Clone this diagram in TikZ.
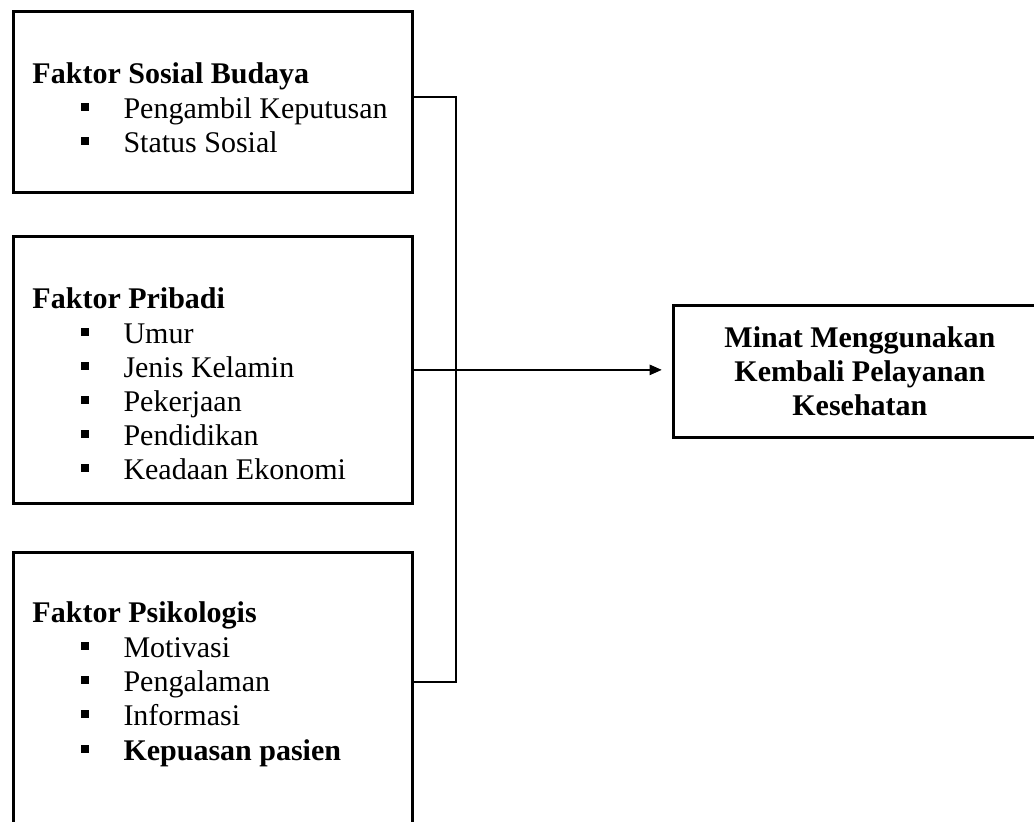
\documentclass[tikz,border=0pt]{standalone}
\usepackage{fontspec}
\setmainfont{Liberation Serif}
\usetikzlibrary{arrows.meta}
\newcommand{\bul}{\rule[3pt]{3pt}{3pt}\hspace{13.8pt}}

\begin{document}
\begin{tikzpicture}[x=0.4pt, y=-0.4pt,
    box/.style={draw, line width=1.1pt, anchor=north west, inner sep=0pt, minimum width=159.6pt},
    head/.style={anchor=base west, inner sep=0pt, font=\fontsize{12}{13.7}\selectfont\bfseries},
    item/.style={anchor=base west, inner sep=0pt, font=\fontsize{12}{13.7}\selectfont},
    conn/.style={line width=1.1pt},
    arr/.style={-{Triangle[length=5pt, width=4pt]}, line width=1.1pt, shorten >=4pt}]
  \useasboundingbox (0,0) rectangle (1034,821);
  \node[box, minimum height=72.4pt] (sosial) at (12,10) {};
  \node[box, minimum height=106.8pt] (pribadi) at (12,235) {};
  \node[box, minimum height=113.6pt] (psiko) at (12,551) {};
  \node[draw, line width=1.1pt, anchor=north west, inner sep=0pt, minimum width=149.2pt, minimum height=52.8pt, align=center, font=\fontsize{12}{13.7}\selectfont\bfseries] (minat) at (672,304) {Minat Menggunakan\\Kembali Pelayanan\\Kesehatan};
  \node[head] (sosial-h) at (32,83)  {Faktor Sosial Budaya};
  \node[item] (sosial-1) at (81,118) {\bul Pengambil Keputusan};
  \node[item] (sosial-2) at (81,152) {\bul Status Sosial};
  \node[head] (pribadi-h) at (32,308) {Faktor Pribadi};
  \node[item] (pribadi-1) at (81,343) {\bul Umur};
  \node[item] (pribadi-2) at (81,377) {\bul Jenis Kelamin};
  \node[item] (pribadi-3) at (81,411) {\bul Pekerjaan};
  \node[item] (pribadi-4) at (81,445) {\bul Pendidikan};
  \node[item] (pribadi-5) at (81,479) {\bul Keadaan Ekonomi};
  \node[head] (psiko-h) at (32,622) {Faktor Psikologis};
  \node[item] (psiko-1) at (81,657) {\bul Motivasi};
  \node[item] (psiko-2) at (81,691) {\bul Pengalaman};
  \node[item] (psiko-3) at (81,725) {\bul Informasi};
  \node[item] (psiko-4) at (81,760) {\bul\textbf{Kepuasan pasien}};
  \coordinate (bustop) at (456,97);
  \coordinate (busbot) at (456,682);
  \draw[conn] (bustop -| sosial.east) -- (bustop) -- (busbot) -- (busbot -| psiko.east);
  \draw[arr] (pribadi.east) -- (pribadi.east -| minat.west);
\end{tikzpicture}
\end{document}
